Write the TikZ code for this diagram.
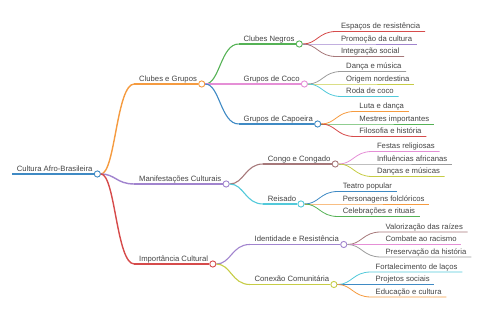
\documentclass[tikz,border=0pt]{standalone}
\usepackage{fontspec}
\setmainfont{Liberation Sans}
\usepackage{tikz}
\usetikzlibrary{calc}
\definecolor{Ink}{HTML}{444444}
\definecolor{mBlue}{HTML}{3F8AC4}
\definecolor{mOrange}{HTML}{F59B40}
\definecolor{mGreen}{HTML}{55B255}
\definecolor{mRed}{HTML}{D64B4B}
\definecolor{mPurple}{HTML}{A184CE}
\definecolor{mBrown}{HTML}{A6787A}
\definecolor{mPink}{HTML}{E58FD6}
\definecolor{mGrey}{HTML}{9C9C9C}
\definecolor{mOlive}{HTML}{C6CC45}
\definecolor{mCyan}{HTML}{52C9DA}

\begin{document}
\begin{tikzpicture}[x=1pt,y=1pt,
    topic/.style={anchor=south west,inner xsep=4.6pt,inner ysep=2.4pt,text height=5.7pt,
      text depth=0pt,text=Ink,font=\fontsize{7.7}{9}\selectfont},
    dot/.style={circle,draw=#1,fill=white,line width=0.9pt,minimum size=6.2pt,inner sep=0pt},
    l0/.style={line width=1.8pt},
    l1/.style={line width=1.4pt},
    l2/.style={line width=1.1pt},
    l3/.style={line width=0.8pt}
]
\useasboundingbox (0,0) rectangle (480,320);

\node[topic] (r) at (12,146) {Cultura Afro-Brasileira};
\node[dot=mBlue] (r0) at (r.south east) {};
\draw[l0,mBlue] (r.south west)--(r0);

\node[topic] (cg) at ($(r0)+(37,90)$) {Clubes e Grupos};
\node[dot=mOrange] (cg0) at (cg.south east) {};
\draw[l1,mOrange] (cg.south west)--(cg0);
\draw[l1,mOrange] (r0) .. controls +(18,0) and +(-18,0) .. (cg.south west);

\node[topic] (cn) at ($(cg0)+(37,40)$) {Clubes Negros};
\node[dot=mGreen] (cn0) at (cn.south east) {};
\draw[l2,mGreen] (cn.south west)--(cn0);
\draw[l2,mGreen] (cg0) .. controls +(18,0) and +(-18,0) .. (cn.south west);

\node[topic] (cn1) at ($(cn0)+(37,12.5)$) {Espaços de resistência};
\node[topic] (cn2) at ($(cn0)+(37,0)$) {Promoção da cultura};
\node[topic] (cn3) at ($(cn0)+(37,-12.5)$) {Integração social};
\draw[l3,mRed] (cn0) .. controls +(18,0) and +(-18,0) .. (cn1.south west)--(cn1.south east);
\draw[l3,mPurple] (cn0) .. controls +(18,0) and +(-18,0) .. (cn2.south west)--(cn2.south east);
\draw[l3,mBrown] (cn0) .. controls +(18,0) and +(-18,0) .. (cn3.south west)--(cn3.south east);

\node[topic] (gc) at ($(cg0)+(37,0)$) {Grupos de Coco};
\node[dot=mPink] (gc0) at (gc.south east) {};
\draw[l2,mPink] (cg0)--(gc0);

\node[topic] (gc1) at ($(gc0)+(37,12.5)$) {Dança e música};
\node[topic] (gc2) at ($(gc0)+(37,0)$) {Origem nordestina};
\node[topic] (gc3) at ($(gc0)+(37,-12.5)$) {Roda de coco};
\draw[l3,mGrey] (gc0) .. controls +(18,0) and +(-18,0) .. (gc1.south west)--(gc1.south east);
\draw[l3,mOlive] (gc0) .. controls +(18,0) and +(-18,0) .. (gc2.south west)--(gc2.south east);
\draw[l3,mCyan] (gc0) .. controls +(18,0) and +(-18,0) .. (gc3.south west)--(gc3.south east);

\node[topic] (gp) at ($(cg0)+(37,-40)$) {Grupos de Capoeira};
\node[dot=mBlue] (gp0) at (gp.south east) {};
\draw[l2,mBlue] (gp.south west)--(gp0);
\draw[l2,mBlue] (cg0) .. controls +(18,0) and +(-18,0) .. (gp.south west);

\node[topic] (gp1) at ($(gp0)+(37,12.5)$) {Luta e dança};
\node[topic] (gp2) at ($(gp0)+(37,0)$) {Mestres importantes};
\node[topic] (gp3) at ($(gp0)+(37,-12.5)$) {Filosofia e história};
\draw[l3,mOrange] (gp0) .. controls +(18,0) and +(-18,0) .. (gp1.south west)--(gp1.south east);
\draw[l3,mGreen] (gp0) .. controls +(18,0) and +(-18,0) .. (gp2.south west)--(gp2.south east);
\draw[l3,mRed] (gp0) .. controls +(18,0) and +(-18,0) .. (gp3.south west)--(gp3.south east);

\node[topic] (mc) at ($(r0)+(37,-10)$) {Manifestações Culturais};
\node[dot=mPurple] (mc0) at (mc.south east) {};
\draw[l1,mPurple] (mc.south west)--(mc0);
\draw[l1,mPurple] (r0) .. controls +(18,0) and +(-18,0) .. (mc.south west);

\node[topic] (cc) at ($(mc0)+(37,20)$) {Congo e Congado};
\node[dot=mBrown] (cc0) at (cc.south east) {};
\draw[l2,mBrown] (cc.south west)--(cc0);
\draw[l2,mBrown] (mc0) .. controls +(18,0) and +(-18,0) .. (cc.south west);

\node[topic] (cc1) at ($(cc0)+(37,12.5)$) {Festas religiosas};
\node[topic] (cc2) at ($(cc0)+(37,0)$) {Influências africanas};
\node[topic] (cc3) at ($(cc0)+(37,-12.5)$) {Danças e músicas};
\draw[l3,mPink] (cc0) .. controls +(18,0) and +(-18,0) .. (cc1.south west)--(cc1.south east);
\draw[l3,mGrey] (cc0) .. controls +(18,0) and +(-18,0) .. (cc2.south west)--(cc2.south east);
\draw[l3,mOlive] (cc0) .. controls +(18,0) and +(-18,0) .. (cc3.south west)--(cc3.south east);

\node[topic] (rs) at ($(mc0)+(37,-20)$) {Reisado};
\node[dot=mCyan] (rs0) at (rs.south east) {};
\draw[l2,mCyan] (rs.south west)--(rs0);
\draw[l2,mCyan] (mc0) .. controls +(18,0) and +(-18,0) .. (rs.south west);

\node[topic] (rs1) at ($(rs0)+(37,12.5)$) {Teatro popular};
\node[topic] (rs2) at ($(rs0)+(37,0)$) {Personagens folclóricos};
\node[topic] (rs3) at ($(rs0)+(37,-12.5)$) {Celebrações e rituais};
\draw[l3,mBlue] (rs0) .. controls +(18,0) and +(-18,0) .. (rs1.south west)--(rs1.south east);
\draw[l3,mOrange] (rs0) .. controls +(18,0) and +(-18,0) .. (rs2.south west)--(rs2.south east);
\draw[l3,mGreen] (rs0) .. controls +(18,0) and +(-18,0) .. (rs3.south west)--(rs3.south east);

\node[topic] (ic) at ($(r0)+(37,-90)$) {Importância Cultural};
\node[dot=mRed] (ic0) at (ic.south east) {};
\draw[l1,mRed] (ic.south west)--(ic0);
\draw[l1,mRed] (r0) .. controls +(18,0) and +(-18,0) .. (ic.south west);

\node[topic] (ir) at ($(ic0)+(37,19.5)$) {Identidade e Resistência};
\node[dot=mPurple] (ir0) at (ir.south east) {};
\draw[l2,mPurple] (ir.south west)--(ir0);
\draw[l2,mPurple] (ic0) .. controls +(18,0) and +(-18,0) .. (ir.south west);

\node[topic] (ir1) at ($(ir0)+(37,12.5)$) {Valorização das raízes};
\node[topic] (ir2) at ($(ir0)+(37,0)$) {Combate ao racismo};
\node[topic] (ir3) at ($(ir0)+(37,-12.5)$) {Preservação da história};
\draw[l3,mBrown] (ir0) .. controls +(18,0) and +(-18,0) .. (ir1.south west)--(ir1.south east);
\draw[l3,mPink] (ir0) .. controls +(18,0) and +(-18,0) .. (ir2.south west)--(ir2.south east);
\draw[l3,mGrey] (ir0) .. controls +(18,0) and +(-18,0) .. (ir3.south west)--(ir3.south east);

\node[topic] (kc) at ($(ic0)+(37,-20.5)$) {Conexão Comunitária};
\node[dot=mOlive] (kc0) at (kc.south east) {};
\draw[l2,mOlive] (kc.south west)--(kc0);
\draw[l2,mOlive] (ic0) .. controls +(18,0) and +(-18,0) .. (kc.south west);

\node[topic] (kc1) at ($(kc0)+(37,12.5)$) {Fortalecimento de laços};
\node[topic] (kc2) at ($(kc0)+(37,0)$) {Projetos sociais};
\node[topic] (kc3) at ($(kc0)+(37,-12.5)$) {Educação e cultura};
\draw[l3,mCyan] (kc0) .. controls +(18,0) and +(-18,0) .. (kc1.south west)--(kc1.south east);
\draw[l3,mBlue] (kc0) .. controls +(18,0) and +(-18,0) .. (kc2.south west)--(kc2.south east);
\draw[l3,mOrange] (kc0) .. controls +(18,0) and +(-18,0) .. (kc3.south west)--(kc3.south east);
\end{tikzpicture}
\end{document}
